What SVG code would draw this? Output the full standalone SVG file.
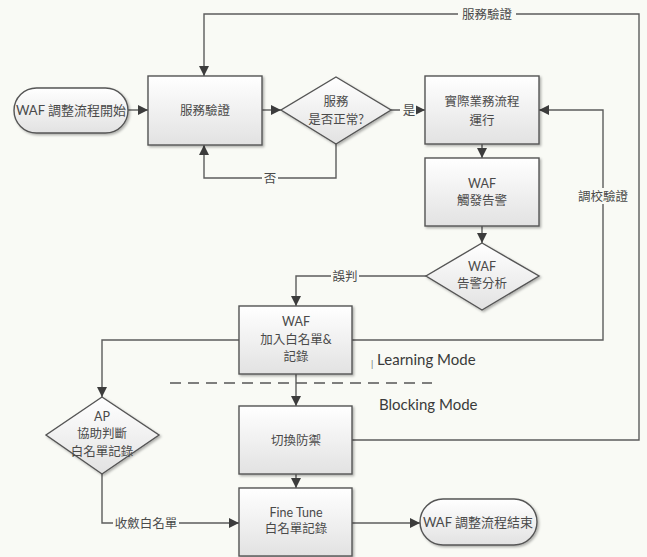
<svg xmlns="http://www.w3.org/2000/svg" width="647" height="557" viewBox="0 0 647 557">
<defs>
<linearGradient id="g" x1="0" y1="0" x2="0" y2="1">
<stop offset="0" stop-color="#ffffff"/>
<stop offset="1" stop-color="#e2e2e2"/>
</linearGradient>
<marker id="arr" viewBox="0 0 10 10" refX="10" refY="5" markerWidth="10" markerHeight="10" markerUnits="userSpaceOnUse" orient="auto">
<path d="M0,0 L10,5 L0,10 z" fill="#3c3c3c"/>
</marker>
<filter id="sh" x="-10%" y="-10%" width="130%" height="130%">
<feDropShadow dx="1.5" dy="1.5" stdDeviation="1" flood-color="#000" flood-opacity="0.3"/>
</filter>
</defs>
<style>
.n{fill:url(#g);stroke:#555;stroke-width:1.4;filter:url(#sh)}
.t{font-family:Lato,"Noto Sans CJK TC",sans-serif;font-size:12.5px;fill:#4a4a4a;text-anchor:middle}
.c{fill:none;stroke:#5c5c5c;stroke-width:1.4;marker-end:url(#arr)}
.lb{fill:#f9faf5}
.m{font-family:Lato,"Open Sans",sans-serif;font-size:15px;fill:#3a3a3a}
</style>
<rect width="647" height="557" fill="#f9faf5"/>

<g id="connectors">
<path class="c" d="M352,440 H639 V14 H204 V76"/>
<path class="c" d="M128,110 H148"/>
<path class="c" d="M262,110 H281"/>
<path class="c" d="M391,110 H425"/>
<path class="c" d="M336,144 V178 H204 V145"/>
<path class="c" d="M482,144 V158"/>
<path class="c" d="M482,226 V243"/>
<path class="c" d="M426,276 H296 V306"/>
<path class="c" d="M352,340 H603 V110 H539"/>
<path class="c" d="M239,340 H102 V397"/>
<path class="c" d="M296,374 V406"/>
<path class="c" d="M296,474 V488"/>
<path class="c" d="M102,474 V523 H239"/>
<path class="c" d="M352,523 H420"/>
<rect class="lb" x="458" y="6" width="58" height="16"/>
<text class="t" x="487" y="19">服務驗證</text>
<rect class="lb" x="400" y="102" width="16" height="16"/>
<text class="t" x="409" y="115">是</text>
<rect class="lb" x="262" y="170" width="16" height="16"/>
<text class="t" x="270" y="183">否</text>
<rect class="lb" x="331" y="268" width="28" height="16"/>
<text class="t" x="345" y="281">誤判</text>
<rect class="lb" x="574" y="188" width="58" height="16"/>
<text class="t" x="603" y="201">調校驗證</text>
<rect class="lb" x="113" y="515" width="66" height="16"/>
<text class="t" x="146" y="528">收斂白名單</text>
<path d="M170,383 H432" stroke="#555" stroke-width="1.6" stroke-dasharray="11,7" fill="none"/>
</g>

<g id="start">
<rect class="n" x="14" y="88" width="114" height="45" rx="22.5"/>
<text class="t" x="71" y="115" style="font-size:13px">WAF 調整流程開始</text>
</g>
<g id="verify">
<rect class="n" x="148" y="76" width="114" height="69"/>
<text class="t" x="205" y="115">服務驗證</text>
</g>
<g id="check">
<polygon class="n" points="336,77 391,110 336,144 281,110"/>
<text class="t" x="336" y="106">服務</text>
<text class="t" x="336" y="124">是否正常?</text>
</g>
<g id="run">
<rect class="n" x="425" y="76" width="114" height="68"/>
<text class="t" x="482" y="106">實際業務流程</text>
<text class="t" x="482" y="125">運行</text>
</g>
<g id="alert">
<rect class="n" x="425" y="158" width="114" height="68"/>
<text class="t" x="482" y="188">WAF</text>
<text class="t" x="482" y="205">觸發告警</text>
</g>
<g id="analyze">
<polygon class="n" points="482,243 539,276 482,310 426,276"/>
<text class="t" x="482" y="271">WAF</text>
<text class="t" x="482" y="288">告警分析</text>
</g>
<g id="whitelist">
<rect class="n" x="239" y="306" width="113" height="68"/>
<text class="t" x="296" y="326">WAF</text>
<text class="t" x="296" y="344">加入白名單&amp;</text>
<text class="t" x="296" y="361">記錄</text>
</g>
<g id="ap">
<polygon class="n" points="102,397 159,435 102,474 46,435"/>
<text class="t" x="102" y="421">AP</text>
<text class="t" x="102" y="438">協助判斷</text>
<text class="t" x="102" y="456">白名單記錄</text>
</g>
<g id="switch">
<rect class="n" x="239" y="406" width="113" height="68"/>
<text class="t" x="296" y="445">切換防禦</text>
</g>
<g id="finetune">
<rect class="n" x="239" y="488" width="113" height="68"/>
<text class="t" x="296" y="517">Fine Tune</text>
<text class="t" x="296" y="533">白名單記錄</text>
</g>
<g id="end">
<rect class="n" x="420" y="499" width="117" height="46" rx="23"/>
<text class="t" x="478" y="527" style="font-size:13px">WAF 調整流程結束</text>
</g>
<g id="modes">
<text class="m" x="371" y="365"><tspan dy="2" style="font-size:9px;fill:#666">|</tspan><tspan dy="-2"> Learning Mode</tspan></text>
<text class="m" x="379" y="410">Blocking Mode</text>
</g>
</svg>
